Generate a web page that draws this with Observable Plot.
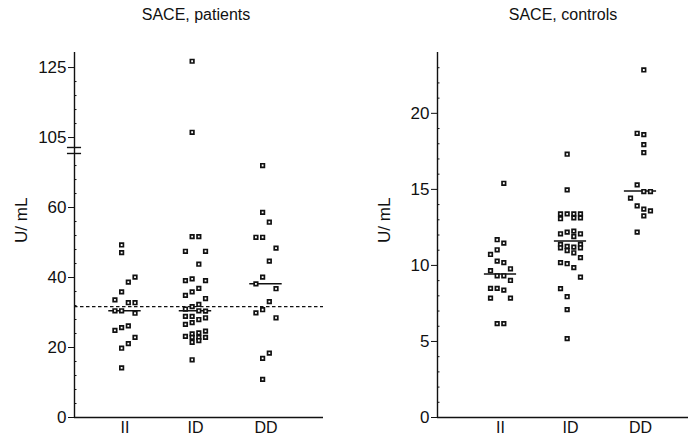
<!DOCTYPE html>
<html><head><meta charset="utf-8">
<script src="https://cdn.jsdelivr.net/npm/d3@7"></script>
<script src="https://cdn.jsdelivr.net/npm/@observablehq/plot@0.6"></script>
<style>
html,body{margin:0;padding:0;background:#fff;}
#wrap{position:relative;width:688px;height:438px;overflow:hidden;}
#left{position:absolute;left:0;top:0;}
#right{position:absolute;left:344px;top:0;}
</style></head><body><div id="wrap"><div id="left"></div><div id="right"></div></div>
<script>
// ---------- data ----------
const categories = ["II", "ID", "DD"];

// SACE, patients (U/mL) and their jitter lane within each genotype column
const patientsII = [49.3, 47.1, 40.1, 38.7, 35.9, 33.6, 32.8, 32.8, 30.5, 30.5, 29.8, 24.9, 25.7, 26.2, 22.9, 21.1, 19.8, 14.2];
const patientsIILane = [-0.5, -0.5, 1.5, 0.5, -0.5, -1.5, 0.5, 1.5, -1.5, -0.5, 1.5, -1.5, -0.5, 0.5, 1.5, 0.5, -0.5, -0.5];
const patientsID = [126.8, 106.5, 51.7, 51.7, 47.5, 47.5, 43.8, 39.1, 39.6, 39.1, 36.9, 35.9, 34.9, 34.0, 31.0, 31.7, 32.3, 30.5, 30.4, 28.9, 28.9, 28.0, 28.5, 26.6, 27.1, 23.9, 22.9, 21.5, 24.2, 22.9, 22.0, 24.7, 22.9, 23.2, 16.5];
const patientsIDLane = [-0.5, -0.5, -0.5, 0.5, -1.5, 1.5, 0.5, -1.5, -0.5, 1.5, 0.5, -0.5, -1.5, 1.5, -1.5, -0.5, 0.5, 0.5, 1.5, -1.5, -0.5, 0.5, 1.5, -1.5, -0.5, -0.5, -0.5, -0.5, 0.5, 0.5, 0.5, 1.5, 1.5, -1.5, -0.5];
const patientsDD = [72.0, 58.6, 55.8, 51.5, 51.5, 48.4, 44.7, 40.1, 38.2, 36.8, 33.1, 30.8, 29.9, 28.5, 18.4, 16.9, 10.9];
const patientsDDLane = [-0.5, -0.5, 0.5, -1.5, -0.5, 1.5, 0.5, -0.5, -1.5, 1.5, 0.5, -0.5, -1.5, 1.5, 0.5, -0.5, -0.5];
const patientsMedians = [30.5, 30.5, 38.2];
const patientsReference = 31.7;

// SACE, controls (U/mL)
const controlsII = [15.40, 11.69, 11.47, 10.72, 11.03, 10.28, 10.18, 9.65, 9.78, 9.32, 9.32, 9.01, 8.49, 8.49, 8.38, 7.85, 7.85, 6.17, 6.17];
const controlsIILane = [0.5, -0.5, 0.5, -1.5, -0.5, -0.5, 0.5, -1.5, 1.5, -0.5, 0.5, 1.5, -1.5, -0.5, 0.5, -1.5, 1.5, -0.5, 0.5];
const controlsID = [17.31, 14.97, 13.39, 13.39, 13.39, 13.39, 13.07, 13.13, 13.13, 12.08, 12.19, 12.25, 12.08, 11.90, 11.38, 11.16, 11.25, 11.20, 11.38, 11.16, 10.98, 10.83, 10.51, 10.18, 10.11, 9.85, 9.23, 8.47, 7.94, 7.09, 5.19];
const controlsIDLane = [-0.5, -0.5, -1.5, -0.5, 0.5, 1.5, -1.5, 0.5, 1.5, -1.5, -0.5, 0.5, 1.5, 0.5, -1.5, -1.5, -0.5, 0.5, 1.5, 1.5, -0.5, 0.5, 1.5, -1.5, -0.5, 0.5, 1.5, -1.5, -0.5, -0.5, -0.5];
const controlsDD = [22.85, 18.69, 18.60, 17.94, 17.42, 15.30, 14.86, 14.86, 14.42, 13.92, 13.70, 13.59, 13.26, 12.19];
const controlsDDLane = [0.5, -0.5, 0.5, 0.5, 0.5, -0.5, 0.5, 1.5, -1.5, -0.5, 0.5, 1.5, 0.5, -0.5];
const controlsMedians = [9.44, 11.6, 14.9];

// axis ticks (true U/mL values) and labels
const patientsTicks = [0, 20, 40, 60, 105, 125];
const patientsTickLabels = ["0", "20", "40", "60", "105", "125"];
const patientsMinorTicks = [4, 8, 12, 16, 24, 28, 32, 36, 44, 48, 52, 56, 64, 68, 72, 109, 113, 117, 121];
const controlsTicks = [0, 5, 10, 15, 20];
const controlsTickLabels = ["0", "5", "10", "15", "20"];
const controlsMinorTicks = [1, 2, 3, 4, 6, 7, 8, 9, 11, 12, 13, 14, 16, 17, 18, 19, 21, 22, 23];

// ---------- layout ----------
const FONT = '"Liberation Sans", Arial, Helvetica, sans-serif';
const INK = "#111";
const BREAK_GAP = 25;      // values above the break are shifted down by this amount
const BREAK_FROM = 90;
const BREAK_AT = 76.3;     // display position of the axis break
const toDisplay = v => v > BREAK_FROM ? v - BREAK_GAP : v;

function rows(groups, lanes) {
  const out = [];
  groups.forEach((vals, i) => vals.forEach((v, j) => out.push({cat: i + 1, v, lane: lanes[i][j]})));
  return out;
}

function panel({title, data, medians, reference, ticks, tickLabels, minor, yDomain, xDomain, marginLeft, marginRight, yMap, brk, titleDx}) {
  const laneW = 0.095;
  const labelOf = new Map(ticks.map((t, i) => [yMap(t), tickLabels[i]]));
  const marks = [
    Plot.ruleX([xDomain[0]], {stroke: INK, strokeWidth: 1.4}),
    Plot.ruleY([0], {stroke: INK, strokeWidth: 1.4}),
    Plot.axisY(ticks.map(yMap), {tickSize: 6, tickPadding: 2, tickFormat: d => labelOf.get(d), label: null, fontSize: 17, stroke: INK, fill: INK}),
    Plot.axisY(minor.map(yMap), {tickSize: -2.5, tickFormat: () => "", label: null, stroke: INK}),
    Plot.axisX([1, 2, 3], {tickSize: 0, tickPadding: 4, tickFormat: d => categories[d - 1], label: null, fontSize: 16, fill: INK}),
  ];
  if (reference != null) marks.push(Plot.ruleY([yMap(reference)], {stroke: INK, strokeWidth: 1.2, strokeDasharray: "3.5,2.5"}));
  marks.push(
    Plot.ruleY(medians.map((m, i) => ({cat: i + 1, m})), {y: d => yMap(d.m), x1: d => d.cat - 0.23, x2: d => d.cat + 0.23, stroke: INK, strokeWidth: 1.5}),
    Plot.dot(data, {x: d => d.cat + d.lane * laneW, y: d => yMap(d.v), symbol: "square", r: 2.0, fill: "white", stroke: INK, strokeWidth: 1.7})
  );
  if (brk) {
    for (const dy of [-3, 3]) {
      marks.push(Plot.ruleY([BREAK_AT], {x1: xDomain[0] - 0.1, x2: xDomain[0] + 0.1, dy, stroke: INK, strokeWidth: 1.4}));
    }
  }
  marks.push(
    Plot.text([title], {frameAnchor: "top", lineAnchor: "middle", dy: -38, dx: titleDx, fontSize: 16, fill: INK}),
    Plot.text(["U/ mL"], {frameAnchor: "left", lineAnchor: "middle", dx: -53, dy: 8, rotate: -90, fontSize: 17, fill: INK})
  );
  return Plot.plot({
    width: 344, height: 438,
    marginLeft, marginRight, marginTop: 52, marginBottom: 21,
    style: {fontFamily: FONT, fontSize: "17px", color: INK, background: "white", overflow: "visible"},
    x: {type: "linear", domain: xDomain},
    y: {type: "linear", domain: yDomain},
    marks
  });
}

document.getElementById("left").append(panel({
  title: "SACE, patients",
  data: rows([patientsII, patientsID, patientsDD], [patientsIILane, patientsIDLane, patientsDDLane]),
  medians: patientsMedians,
  reference: patientsReference,
  ticks: patientsTicks, tickLabels: patientsTickLabels, minor: patientsMinorTicks,
  yDomain: [0, 104.3], xDomain: [0.284, 3.816],
  marginLeft: 74, marginRight: 21, yMap: toDisplay, brk: true, titleDx: -3
}));

document.getElementById("right").append(panel({
  title: "SACE, controls",
  data: rows([controlsII, controlsID, controlsDD], [controlsIILane, controlsIDLane, controlsDDLane]),
  medians: controlsMedians,
  reference: null,
  ticks: controlsTicks, tickLabels: controlsTickLabels, minor: controlsMinorTicks,
  yDomain: [0, 24], xDomain: [0.1, 3.686],
  marginLeft: 93, marginRight: 0, yMap: v => v, brk: false, titleDx: 0
}));
</script></body></html>
